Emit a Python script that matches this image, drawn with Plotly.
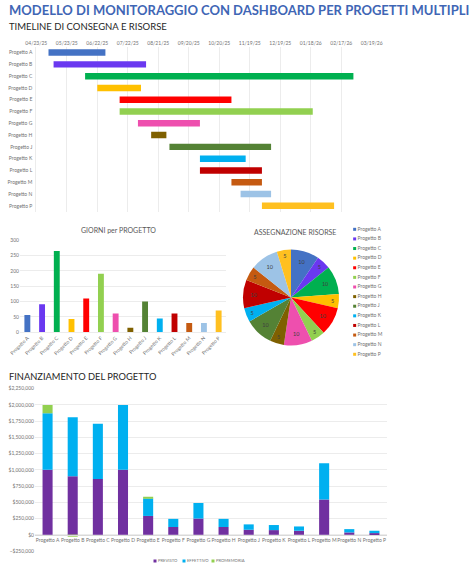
import plotly.graph_objects as go

W, H = 474, 571

progetti = ['Progetto A', 'Progetto B', 'Progetto C', 'Progetto D', 'Progetto E', 'Progetto F', 'Progetto G',
            'Progetto H', 'Progetto J', 'Progetto K', 'Progetto L', 'Progetto M', 'Progetto N', 'Progetto P']
inizio = ['2025-05-05', '2025-05-10', '2025-06-10', '2025-06-22', '2025-07-14', '2025-07-14', '2025-08-01',
          '2025-08-14', '2025-09-01', '2025-10-01', '2025-10-01', '2025-11-01', '2025-11-10', '2025-12-01']
giorni = [56, 91, 264, 43, 110, 190, 61, 15, 100, 45, 61, 30, 30, 71]
risorse = [10, 5, 10, 5, 10, 5, 10, 5, 10, 5, 10, 5, 10, 5]
colori = ['#4472C4', '#6A38F0', '#00B050', '#FFC000', '#FF0000', '#92D050', '#EE4FAE',
          '#7F6000', '#548235', '#00B0F0', '#C00000', '#C55A11', '#9DC3E6', '#FFC020']

voci = ['PREVISTO', 'EFFETTIVO', 'PROMEMORIA']
colori_voci = ['#7030A0', '#00B0F0', '#92D050']
previsto = [1000000, 900000, 860000, 1000000, 290000, 120000, 250000, 120000, 77000, 72000, 62000, 545000, 36000, 26000]
effettivo = [870000, 910000, 850000, 1000000, 270000, 125000, 240000, 125000, 83000, 78000, 66000, 555000, 51000, 36000]
promemoria = [130000, -15000, 0, 0, 15000, 0, 0, 0, 0, 0, 0, 0, 0, 0]

FONT = 'Lato'
GRID = '#ececec'
TICK = '#737373'
DAY_MS = 86400000


def xdom(a, b):
    return [a / W, b / W]


def ydom(top, bottom):
    return [1 - bottom / H, 1 - top / H]


fig = go.Figure()

# timeline
fig.add_trace(go.Bar(y=progetti, x=[g * DAY_MS for g in giorni], base=inizio, orientation='h',
                     marker=dict(color=colori), width=0.55, xaxis='x', yaxis='y', showlegend=False))
# giorni per progetto
fig.add_trace(go.Bar(x=progetti, y=giorni, marker=dict(color=colori), width=0.4,
                     xaxis='x2', yaxis='y2', showlegend=False))
# risorse
fig.add_trace(go.Pie(labels=progetti, values=risorse, sort=False, direction='clockwise', rotation=0,
                     marker=dict(colors=colori), textinfo='value', textposition='inside',
                     insidetextorientation='horizontal', textfont=dict(size=5.5, color='#404040'),
                     domain=dict(x=xdom(243, 339), y=ydom(249.5, 345.5)), showlegend=False))
# legenda della torta
fig.add_trace(go.Scatter(x=[0] * len(progetti), y=progetti, mode='markers+text', text=progetti,
                         textposition='middle right', textfont=dict(size=5, color=TICK, family=FONT),
                         marker=dict(symbol='square', size=3, color=colori), cliponaxis=False,
                         xaxis='x3', yaxis='y3', showlegend=False))
# finanziamento
for nome, valori, colore in zip(voci, [previsto, effettivo, promemoria], colori_voci):
    fig.add_trace(go.Bar(x=progetti, y=valori, name=nome, marker=dict(color=colore), width=0.4,
                         xaxis='x4', yaxis='y4', showlegend=False))
# legenda del finanziamento
fig.add_trace(go.Scatter(x=voci, y=['voci'] * len(voci), mode='markers+text', text=voci,
                         textposition='middle right', textfont=dict(size=4.2, color=TICK, family=FONT),
                         marker=dict(symbol='square', size=3, color=colori_voci), cliponaxis=False,
                         xaxis='x5', yaxis='y5', showlegend=False))

# asse x del finanziamento sullo zero
fin_dom = ydom(388.7, 551)
fin_zero = fin_dom[0] + (fin_dom[1] - fin_dom[0]) * 0.1

fig.update_layout(
    template='none',
    width=W, height=H, margin=dict(l=0, r=0, t=0, b=0), autosize=False,
    paper_bgcolor='white', plot_bgcolor='white', barmode='relative',
    font=dict(family=FONT, size=5, color=TICK),
    xaxis=dict(type='date', domain=xdom(36.3, 371.7), range=['2025-04-23', '2026-03-19'], anchor='y', side='top',
               tick0='2025-04-23', dtick=30 * DAY_MS, tickformat='%m/%d/%y', gridcolor=GRID, showline=False,
               ticks='', tickfont=dict(size=5), zeroline=False),
    yaxis=dict(type='category', domain=ydom(46.7, 211.7), autorange='reversed', anchor='x', showgrid=False,
               showline=True, linecolor=GRID, ticks='', tickfont=dict(size=5), ticklabelstandoff=2),
    xaxis2=dict(type='category', domain=xdom(20, 226), anchor='y2', tickangle=-45, showgrid=False, showline=True,
                linecolor=GRID, ticks='', tickfont=dict(size=5)),
    yaxis2=dict(domain=ydom(240, 332.3), range=[0, 300], dtick=50, anchor='x2', gridcolor=GRID, showline=False,
                ticks='', tickfont=dict(size=5), zeroline=False),
    xaxis3=dict(domain=xdom(353, 410), range=[-0.03, 1], anchor='y3', visible=False),
    yaxis3=dict(type='category', domain=ydom(224.5, 359.1), range=[13.5, -0.5], anchor='x3', visible=False),
    xaxis4=dict(type='category', domain=xdom(35, 387), anchor='free', position=fin_zero, showgrid=False,
                showline=True, linecolor='#d9d9d9', ticks='', tickangle=0, tickfont=dict(size=5)),
    yaxis4=dict(domain=fin_dom, range=[-250000, 2250000], dtick=250000, anchor='x4', gridcolor=GRID,
                showline=False, ticks='', tickformat='$,.0f', tickfont=dict(size=5), zeroline=False),
    xaxis5=dict(type='category', domain=xdom(140.5, 227.5), range=[-0.5, 2.5], anchor='y5', visible=False),
    yaxis5=dict(type='category', domain=ydom(557, 565), anchor='x5', visible=False),
    annotations=[
        dict(text='<b>MODELLO DI MONITORAGGIO CON DASHBOARD PER PROGETTI MULTIPLI</b>', xref='paper', yref='paper',
             x=6.5 / W, y=1 - 10 / H, xanchor='left', yanchor='middle', showarrow=False,
             font=dict(size=13, color='#3F66B5')),
        dict(text='TIMELINE DI CONSEGNA E RISORSE', xref='paper', yref='paper', x=6.5 / W, y=1 - 26.5 / H,
             xanchor='left', yanchor='middle', showarrow=False, font=dict(size=9.5, color='#262626')),
        dict(text='GIORNI per PROGETTO', xref='paper', yref='paper', x=118 / W, y=1 - 230 / H,
             xanchor='center', yanchor='middle', showarrow=False, font=dict(size=7, color='#595959')),
        dict(text='ASSEGNAZIONE RISORSE', xref='paper', yref='paper', x=295 / W, y=1 - 232 / H,
             xanchor='center', yanchor='middle', showarrow=False, font=dict(size=7, color='#595959')),
        dict(text='FINANZIAMENTO DEL PROGETTO', xref='paper', yref='paper', x=6.5 / W, y=1 - 376.5 / H,
             xanchor='left', yanchor='middle', showarrow=False, font=dict(size=9.3, color='#262626')),
    ],
)

fig.write_html("out.html", post_script="document.body.style.margin='0';", config=dict(displayModeBar=False))
